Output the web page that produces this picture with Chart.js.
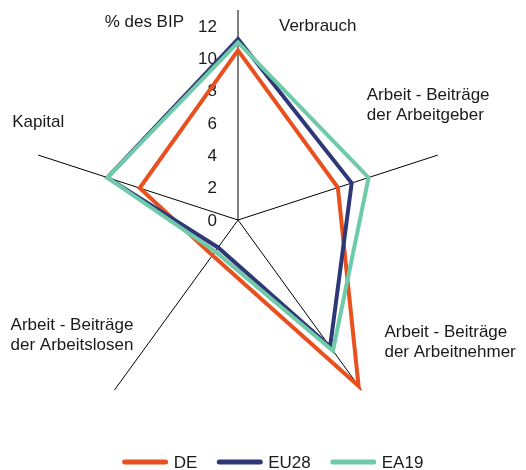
<!DOCTYPE html>
<html>
<head>
<meta charset="utf-8">
<script src="https://cdn.jsdelivr.net/npm/chart.js@4/dist/chart.umd.min.js"></script>
<style>
  html, body { margin: 0; padding: 0; background: #fff; }
  #wrap { width: 526px; height: 470px; }
</style>
</head>
<body>
<div id="wrap"><canvas id="c" width="526" height="470"></canvas></div>
<script>
const categories = [
  'Verbrauch',
  ['Arbeit - Beiträge', 'der Arbeitgeber'],
  ['Arbeit - Beiträge', 'der Arbeitnehmer'],
  ['Arbeit - Beiträge', 'der Arbeitslosen'],
  'Kapital'
];
const deValues = [10.5, 6.5, 12.7, 2.7, 6.4];
const eu28Values = [11.2, 7.4, 9.7, 2.1, 8.5];
const ea19Values = [11.0, 8.5, 10.0, 2.4, 8.5];
const tickValues = [0, 2, 4, 6, 8, 10, 12];
const unitLabel = '% des BIP';

const FONT = '17px "Liberation Sans", Arial, sans-serif';
const TEXT = '#1a1a1a';

// where each category label sits, relative to the end of its axis (left edge, first line)
const labelOffsets = [[41, 16], [-71, -60], [23, -58], [-104, -65], [-26, -33]];

const radarText = {
  id: 'radarText',
  beforeDatasetsDraw(chart) {
    const r = chart.scales.r;
    const ctx = chart.ctx;
    ctx.save();
    ctx.font = FONT;
    ctx.fillStyle = TEXT;
    ctx.textAlign = 'right';
    ctx.textBaseline = 'middle';
    tickValues.forEach(v => {
      const p = r.getPointPositionForValue(0, v);
      ctx.fillText(String(v), r.xCenter - 21, p.y + 1);
    });
    const top = r.getPointPositionForValue(0, r.max);
    ctx.fillText(unitLabel, r.xCenter - 54, top.y + 12);
    ctx.restore();
  },
  afterDraw(chart) {
    const r = chart.scales.r;
    const ctx = chart.ctx;
    ctx.save();
    ctx.font = FONT;
    ctx.fillStyle = TEXT;
    ctx.textAlign = 'left';
    ctx.textBaseline = 'middle';
    chart.data.labels.forEach((lab, i) => {
      const end = r.getPointPosition(i, r.drawingArea);
      const lines = Array.isArray(lab) ? lab : [lab];
      lines.forEach((t, j) => {
        ctx.fillText(t, end.x + labelOffsets[i][0], end.y + labelOffsets[i][1] + j * 20);
      });
    });

    // legend
    const lineLen = 45, gap = 6, spacing = 20;
    const items = chart.data.datasets.map(ds => ({
      ds, w: lineLen + gap + ctx.measureText(ds.label).width
    }));
    const total = items.reduce((s, it) => s + it.w, 0) + spacing * (items.length - 1);
    let x = chart.width / 2 + 10 - total / 2;
    const y = chart.height - 8;
    items.forEach(it => {
      ctx.strokeStyle = it.ds.borderColor;
      ctx.lineWidth = 5;
      ctx.lineCap = 'round';
      ctx.beginPath();
      ctx.moveTo(x + 2, y);
      ctx.lineTo(x + lineLen - 2, y);
      ctx.stroke();
      ctx.fillText(it.ds.label, x + lineLen + gap, y + 1);
      x += it.w + spacing;
    });
    ctx.restore();
  }
};

new Chart(document.getElementById('c'), {
  type: 'radar',
  data: {
    labels: categories,
    datasets: [
      { label: 'DE', data: deValues, borderColor: '#e8511f', order: 3 },
      { label: 'EU28', data: eu28Values, borderColor: '#2e3876', order: 2 },
      { label: 'EA19', data: ea19Values, borderColor: '#6fcaa9', order: 1 }
    ]
  },
  options: {
    responsive: false,
    animation: false,
    layout: { padding: { left: 28, right: 78, top: 10, bottom: 40 } },
    elements: {
      line: { borderWidth: 4, fill: false, tension: 0, borderJoinStyle: 'miter' },
      point: { radius: 0, hoverRadius: 0 }
    },
    scales: {
      r: {
        min: 0,
        max: 13,
        grid: { display: false },
        angleLines: { display: true, color: '#000', lineWidth: 1 },
        pointLabels: { display: false },
        ticks: { display: false }
      }
    },
    plugins: {
      legend: { display: false },
      tooltip: { enabled: false }
    }
  },
  plugins: [radarText]
});
</script>
</body>
</html>
